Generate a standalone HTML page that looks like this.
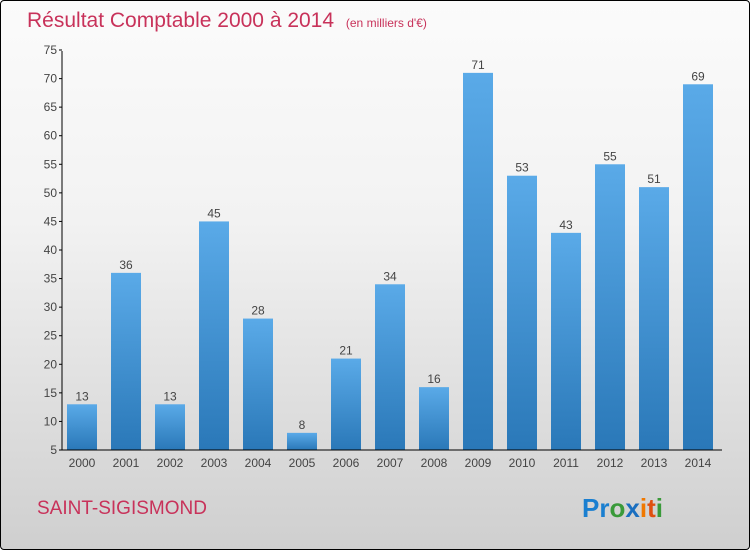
<!DOCTYPE html>
<html><head><meta charset="utf-8"><style>
body{margin:0}
#wrap{position:relative;width:748px;height:548px;border:1px solid #000;border-radius:4px;background:linear-gradient(#fbfbfb,#f2f2f2 40%,#cfcfcf);overflow:hidden;font-family:"Liberation Sans",sans-serif}
</style></head><body>
<div id="wrap">
<svg width="748" height="548">
<text x="26" y="26" font-size="21" fill="#c8325a">Résultat Comptable 2000 à 2014 <tspan font-size="12" dx="6">(en milliers d'€)</tspan></text>
<g id="plot"></g>
<text x="36" y="513" font-size="19" fill="#c8325a">SAINT-SIGISMOND</text>
<text x="581" y="516" font-size="26" font-weight="bold"><tspan fill="#1a7fd0">Pr</tspan><tspan fill="#3a9a3a">o</tspan><tspan fill="#1a6fc0">x</tspan><tspan fill="#f07800">i</tspan><tspan fill="#e05010">t</tspan><tspan fill="#3a9a3a">i</tspan></text>
</svg></div>
<script>
const years=["2000","2001","2002","2003","2004","2005","2006","2007","2008","2009","2010","2011","2012","2013","2014"];
const values=[13,36,13,45,28,8,21,34,16,71,53,43,55,51,69];
const yTicks=[5,10,15,20,25,30,35,40,45,50,55,60,65,70,75];
const NS="http://www.w3.org/2000/svg";
const g=document.getElementById('plot');
const y=v=>449-(v-5)*(400/70);
const x=i=>81+i*44;
function mk(t,a){const e=document.createElementNS(NS,t);for(const k in a)e.setAttribute(k,a[k]);g.appendChild(e);return e;}
const defs=mk('defs',{});
defs.innerHTML='<linearGradient id="bg" x1="0" y1="0" x2="0" y2="1"><stop offset="0" stop-color="#5aaae8"/><stop offset="1" stop-color="#2a78b8"/></linearGradient>';
values.forEach((v,i)=>{
 const r=mk('rect',{x:x(i)-15,y:y(v),width:30,height:449-y(v),fill:'url(#bg)'});
 
 
 const t=mk('text',{x:x(i),y:y(v)-4,'font-size':12,fill:'#444','text-anchor':'middle'});
 t.textContent=v;
 
 
 const xl=mk('text',{x:x(i),y:466,'font-size':12,fill:'#444','text-anchor':'middle'});
 xl.textContent=years[i];
 
 
});
const ax=mk('path',{d:'M61 50V449H721',stroke:'#000','stroke-width':1,fill:'none'});


yTicks.forEach(v=>{
 mk('line',{x1:58,x2:61,y1:y(v),y2:y(v),stroke:'#000'});
 const t=mk('text',{x:56,y:y(v)+4,'font-size':12,fill:'#444','text-anchor':'end'});
 t.textContent=v;
 
 
});
</script>
</body></html>
